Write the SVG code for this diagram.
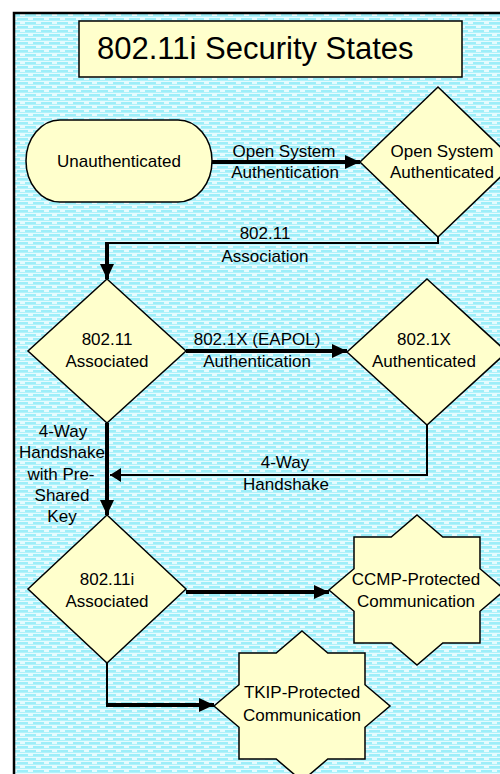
<svg xmlns="http://www.w3.org/2000/svg" xmlns:xlink="http://www.w3.org/1999/xlink" width="500" height="774" viewBox="0 0 500 774">
<style>
.node{fill:#FFFFCC;stroke:#000;stroke-width:1.5}
.t{font-family:"Liberation Sans",Arial,sans-serif;font-size:17px;fill:#000;text-anchor:middle}
.thick{fill:none;stroke:#000;stroke-width:4}
.thin{fill:none;stroke:#000;stroke-width:2}
</style>
<defs>
<pattern id="bg" width="16" height="8" patternUnits="userSpaceOnUse">
<rect width="16" height="8" fill="#E6FBFE"/>
<rect y="0" width="16" height="1" fill="#B0F2FA"/>
<rect x="1" y="2" width="11" height="2" fill="#9DEEF9"/>
<rect y="4" width="16" height="1" fill="#B0F2FA"/>
<rect x="9" y="6" width="7" height="2" fill="#9DEEF9"/>
<rect x="0" y="6" width="4" height="2" fill="#9DEEF9"/>
</pattern>
<marker id="arr" markerUnits="userSpaceOnUse" markerWidth="16" markerHeight="14" refX="15" refY="7" orient="auto" viewBox="0 0 16 14">
<path d="M0,0 L15,7 L0,14 z" fill="#000"/>
</marker>
<marker id="arrs" markerUnits="userSpaceOnUse" markerWidth="12" markerHeight="14" refX="11" refY="7" orient="auto" viewBox="0 0 12 14">
<path d="M0,0 L11,7 L0,14 z" fill="#000"/>
</marker>
<polygon id="star" points="0,-75 25.8,-53 63,-53 63,-21.3 88,0 63,21.3 63,53 25.8,53 0,75 -25.8,53 -63,53 -63,21.3 -88,0 -63,-21.3 -63,-53 -25.8,-53"/>
</defs>
<rect width="500" height="774" fill="#FFFFFF"/>
<rect x="14" y="13" width="500" height="780" fill="url(#bg)" stroke="#000" stroke-width="2.5"/>

<g id="title">
<rect x="79" y="21" width="383" height="56" fill="#FFFFCC" stroke="#000" stroke-width="1.5"/>
<text x="97" y="59" font-family="'Liberation Sans',Arial,sans-serif" font-size="31" fill="#000">802.11i Security States</text>
</g>

<g id="connectors">
<path class="thick" d="M212,162 H360" marker-end="url(#arr)"/>
<path class="thin" d="M438,237 V243 H106"/>
<path class="thick" d="M107,242 V279" marker-end="url(#arr)"/>
<path class="thick" d="M186,351 H347" marker-end="url(#arr)"/>
<path class="thin" d="M427,425 V475 H110" marker-end="url(#arrs)"/>
<path class="thick" d="M107,423 V515" marker-end="url(#arr)"/>
<path class="thick" d="M186,592 H329" marker-end="url(#arr)"/>
<path class="thin" d="M107,663 V705"/>
<path class="thick" d="M106,705 H214" marker-end="url(#arr)"/>
<text class="t" x="284" y="157">Open System</text>
<text class="t" x="285" y="178">Authentication</text>
<text class="t" x="265" y="239">802.11</text>
<text class="t" x="265" y="262">Association</text>
<text class="t" x="257" y="345">802.1X (EAPOL)</text>
<text class="t" x="257" y="367">Authentication</text>
<text class="t" x="285" y="468">4-Way</text>
<text class="t" x="286" y="490">Handshake</text>
<text class="t" x="63" y="437">4-Way</text>
<text class="t" x="62" y="458">Handshake</text>
<text class="t" x="61" y="480">with Pre-</text>
<text class="t" x="62" y="501">Shared</text>
<text class="t" x="62" y="522">Key</text>
</g>

<g id="unauthenticated">
<rect class="node" x="26" y="120" width="186" height="82" rx="34" ry="41"/>
<text class="t" x="119" y="167">Unauthenticated</text>
</g>

<g id="open-system-authenticated">
<polygon class="node" points="438,87 516,162 438,237 360,162"/>
<text class="t" x="442" y="157">Open System</text>
<text class="t" x="442" y="178">Authenticated</text>
</g>

<g id="associated">
<polygon class="node" points="107,279 186,351 107,423 28,351"/>
<text class="t" x="107" y="345">802.11</text>
<text class="t" x="107" y="367">Associated</text>
</g>

<g id="dot1x-authenticated">
<polygon class="node" points="427,279 507,352 427,425 347,352"/>
<text class="t" x="424" y="345">802.1X</text>
<text class="t" x="424" y="367">Authenticated</text>
</g>

<g id="i-associated">
<polygon class="node" points="107,515 186,589 107,663 28,589"/>
<text class="t" x="107" y="585">802.11i</text>
<text class="t" x="107" y="607">Associated</text>
</g>

<g id="ccmp">
<use xlink:href="#star" class="node" transform="translate(417,590)"/>
<text class="t" x="416" y="585">CCMP-Protected</text>
<text class="t" x="416" y="607">Communication</text>
</g>

<g id="tkip">
<use xlink:href="#star" class="node" transform="translate(302,706)"/>
<text class="t" x="302" y="698">TKIP-Protected</text>
<text class="t" x="302" y="721">Communication</text>
</g>
</svg>
